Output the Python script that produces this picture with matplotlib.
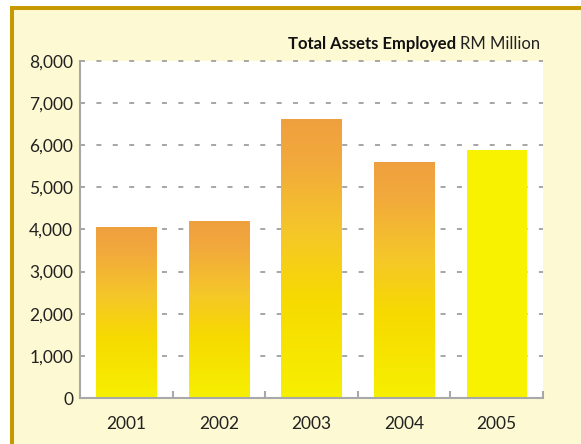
import matplotlib
matplotlib.use("Agg")
import matplotlib.pyplot as plt
import numpy as np
from matplotlib.colors import LinearSegmentedColormap
from matplotlib.patches import Rectangle
from matplotlib.ticker import FuncFormatter

# data
years = ["2001", "2002", "2003", "2004", "2005"]
assets = [4070, 4190, 6630, 5610, 5880]
solid_years = ["2005"]

plt.rcParams["font.family"] = ["Lato", "DejaVu Sans"]

cream = "#FDF9D2"
gold = "#C49A00"
grid_grey = "#A6A6A6"
text_col = "#222222"
grad = LinearSegmentedColormap.from_list(
    "assets", [(0.0, "#F6F000"), (0.35, "#F7DA00"), (0.6, "#F5C62A"),
               (0.85, "#F2A93C"), (1.0, "#EFA03F")])

fig = plt.figure(figsize=(5.81, 4.44), dpi=100, facecolor="white")
W, H = 581, 444

# cream panel with a gold rule on top and left only
panel = Rectangle((12 / W, -0.1), 1.2, 1.1 - 8.5 / H,
                  transform=fig.transFigure, facecolor=cream,
                  edgecolor=gold, linewidth=2.9, zorder=0)
fig.add_artist(panel)

ax = fig.add_axes([80 / W, 46 / H, 463 / W, 337 / H])
ax.set_facecolor("white")

x = np.arange(len(years))
width = 0.65
bars = ax.bar(x, assets, width=width, color="none", edgecolor="none", zorder=3)
ramp = np.linspace(0, 1, 256).reshape(-1, 1)
for xi, val, yr, bar in zip(x, assets, years, bars):
    if yr in solid_years:
        bar.set_facecolor("#F8F200")
        continue
    img = ax.imshow(ramp, cmap=grad, origin="lower", aspect="auto",
                    extent=(xi - width / 2, xi + width / 2, 0, val),
                    interpolation="bilinear", zorder=3)
    img.set_clip_path(bar)
ax.set_xlim(-0.5, 4.5)
ax.set_ylim(0, 8000)

# dashed grid behind the bars
lw = 1.4
for yv in range(1000, 8001, 1000):
    ax.axhline(yv, color=grid_grey, linewidth=lw,
               linestyle=(0, (3.6 / lw, 8.2 / lw)), zorder=1, clip_on=False)

for side in ["top", "right"]:
    ax.spines[side].set_visible(False)
for side in ["left", "bottom"]:
    ax.spines[side].set_color("#A8A8A8")
    ax.spines[side].set_linewidth(1.5)
    ax.spines[side].set_zorder(4)

ax.set_yticks(range(0, 8001, 1000))
ax.yaxis.set_major_formatter(FuncFormatter(lambda v, p: f"{int(v):,}"))
ax.tick_params(axis="y", length=0, pad=5, labelsize=12.5, labelcolor=text_col)

ax.set_xticks(x)
ax.set_xticklabels(years)
ax.tick_params(axis="x", which="major", length=0, pad=13, labelsize=12.5,
               labelcolor=text_col)
ax.set_xticks(np.arange(0.5, 4.6, 1.0), minor=True)
ax.tick_params(axis="x", which="minor", direction="in", length=5, width=1.5,
               color="#A8A8A8")

title = fig.text(540 / W, 1 - 49 / H, "RM Million", ha="right", va="baseline",
                 fontsize=12, color=text_col)
ax.annotate("Total Assets Employed ", xy=(0, 0), xycoords=title,
            ha="right", va="bottom", fontsize=12, fontweight="bold",
            color="#111111", annotation_clip=False)

fig.savefig("out.png", dpi=100, facecolor=fig.get_facecolor())
